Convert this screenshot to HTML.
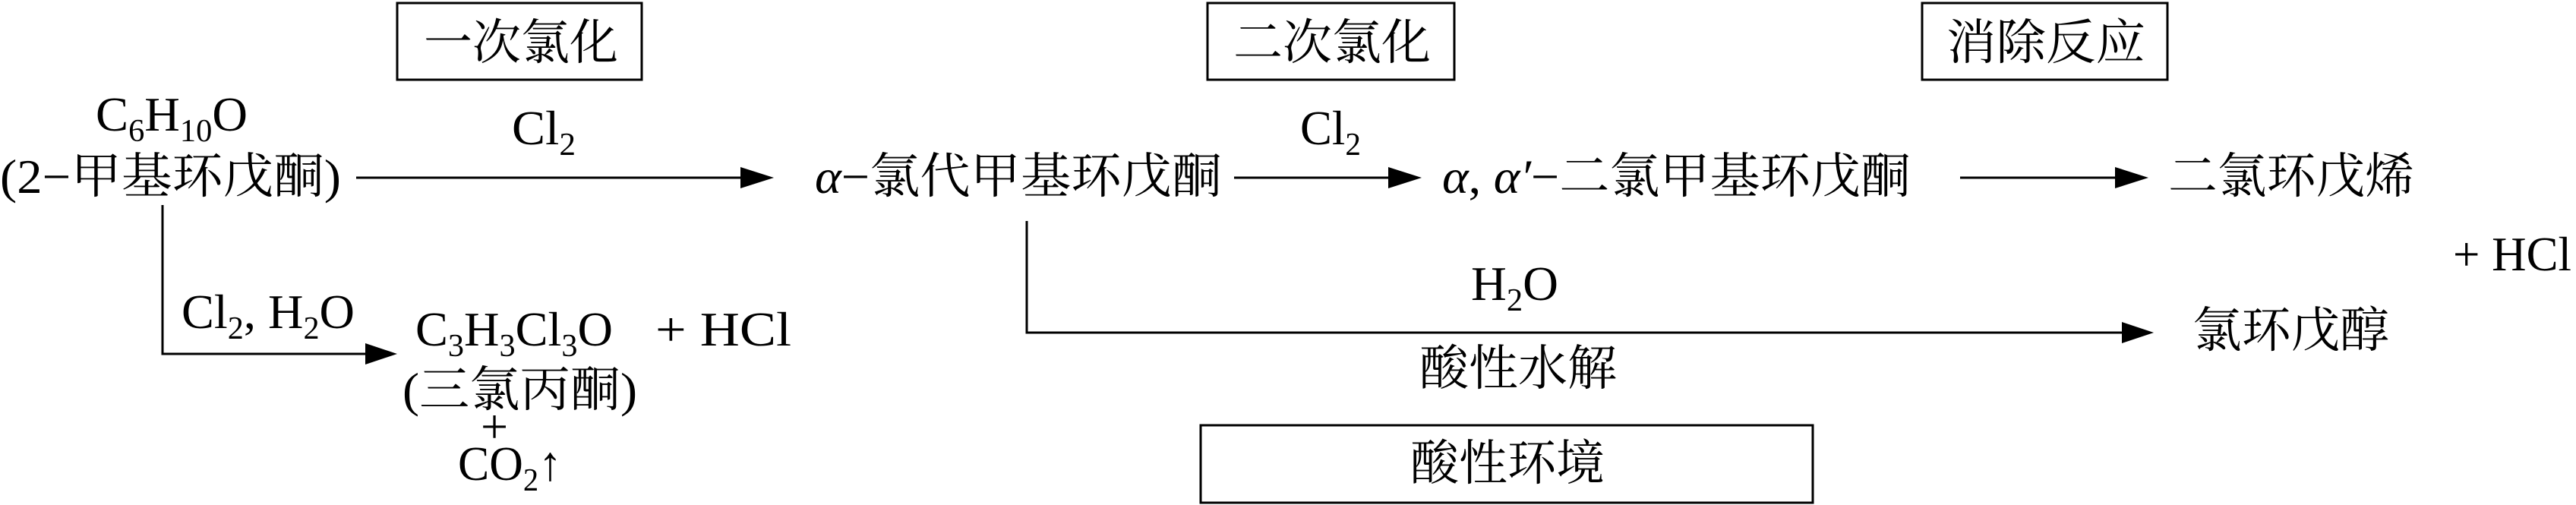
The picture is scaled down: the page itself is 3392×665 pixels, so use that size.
<!DOCTYPE html>
<html><head><meta charset="utf-8"><style>
html,body{margin:0;padding:0;background:#fff;}
svg{display:block;}
text{font-family:"Liberation Serif","Noto Serif CJK SC",serif;font-size:64px;fill:#000;}
</style></head><body>
<svg width="3392" height="665" viewBox="0 0 3392 665" xmlns="http://www.w3.org/2000/svg">
<g fill="none" stroke="#000" stroke-width="3">
<rect x="523" y="4" width="322" height="101"/>
<rect x="1590" y="4" width="325" height="101"/>
<rect x="2531" y="4" width="323" height="101"/>
<rect x="1581" y="560" width="806" height="102"/>
<line x1="469" y1="234" x2="980" y2="234"/>
<line x1="1625" y1="234" x2="1835" y2="234"/>
<line x1="2581" y1="234" x2="2790" y2="234"/>
<polyline points="214,270 214,466 490,466"/>
<polyline points="1352,291 1352,438 2800,438"/>
</g>
<g fill="#000">
<polygon points="975,220 1019,234 975,248"/>
<polygon points="1828,220 1872,234 1828,248"/>
<polygon points="2785,220 2829,234 2785,248"/>
<polygon points="481,452 523,466 481,480"/>
<polygon points="2794,424 2836,438 2794,452"/>
</g>
<text x="558" y="78" textLength="256" lengthAdjust="spacingAndGlyphs">一次氯化</text>
<text x="1624" y="78" textLength="260" lengthAdjust="spacingAndGlyphs">二次氯化</text>
<text x="2563" y="78" textLength="262" lengthAdjust="spacingAndGlyphs">消除反应</text>
<text x="1857" y="632" textLength="256" lengthAdjust="spacingAndGlyphs">酸性环境</text>

<text x="126" y="172" textLength="200" lengthAdjust="spacingAndGlyphs">C<tspan font-size="42" dy="14">6</tspan><tspan dy="-14">H</tspan><tspan font-size="42" dy="14">10</tspan><tspan dy="-14">O</tspan></text>
<text x="0" y="254" textLength="449" lengthAdjust="spacingAndGlyphs">(2−甲基环戊酮)</text>
<text x="674" y="190" textLength="84" lengthAdjust="spacingAndGlyphs">Cl<tspan font-size="42" dy="14">2</tspan></text>
<text x="239" y="432" textLength="228" lengthAdjust="spacingAndGlyphs">Cl<tspan font-size="42" dy="14">2</tspan><tspan dy="-14">, H</tspan><tspan font-size="42" dy="14">2</tspan><tspan dy="-14">O</tspan></text>
<text x="547" y="455" textLength="260" lengthAdjust="spacingAndGlyphs">C<tspan font-size="42" dy="14">3</tspan><tspan dy="-14">H</tspan><tspan font-size="42" dy="14">3</tspan><tspan dy="-14">Cl</tspan><tspan font-size="42" dy="14">3</tspan><tspan dy="-14">O</tspan></text>
<text x="863" y="455" textLength="179" lengthAdjust="spacingAndGlyphs">+  HCl</text>
<text x="530" y="535" textLength="309" lengthAdjust="spacingAndGlyphs">(三氯丙酮)</text>
<text x="651" y="583" text-anchor="middle" font-size="54">+</text>
<text x="603" y="632" textLength="137" lengthAdjust="spacingAndGlyphs">CO<tspan font-size="42" dy="14">2</tspan><tspan dy="-14">↑</tspan></text>

<text x="1073" y="254" textLength="536" lengthAdjust="spacingAndGlyphs"><tspan font-style="italic">α</tspan>−氯代甲基环戊酮</text>
<text x="1712" y="190" textLength="80" lengthAdjust="spacingAndGlyphs">Cl<tspan font-size="42" dy="14">2</tspan></text>
<text x="1899" y="254" textLength="617" lengthAdjust="spacingAndGlyphs"><tspan font-style="italic">α</tspan>, <tspan font-style="italic">α′</tspan>−二氯甲基环戊酮</text>
<text x="2855" y="254" textLength="324" lengthAdjust="spacingAndGlyphs">二氯环戊烯</text>
<text x="3230" y="356" textLength="156" lengthAdjust="spacingAndGlyphs">+ HCl</text>
<text x="1937" y="395" textLength="115" lengthAdjust="spacingAndGlyphs">H<tspan font-size="42" dy="14">2</tspan><tspan dy="-14">O</tspan></text>
<text x="1869" y="507" textLength="260" lengthAdjust="spacingAndGlyphs">酸性水解</text>
<text x="2887" y="457" textLength="259" lengthAdjust="spacingAndGlyphs">氯环戊醇</text>
</svg>
</body></html>
